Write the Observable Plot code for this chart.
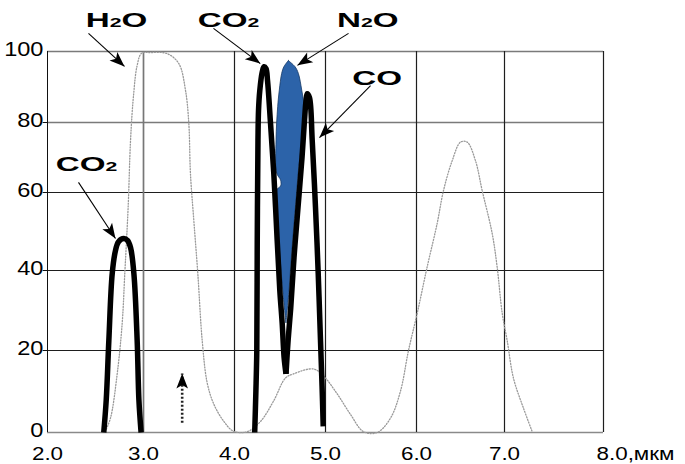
<!DOCTYPE html>
<html><head><meta charset="utf-8">
<script src="https://cdn.jsdelivr.net/npm/d3@7"></script>
<script src="https://cdn.jsdelivr.net/npm/@observablehq/plot@0.6"></script>
<style>body{margin:0;background:#fff}</style>
</head><body><div id="chart"></div>
<script>
// ---- axis / grid values ----
const xGridVals = [2, 3, 4, 5, 6, 7, 8];
const yGridVals = [0, 20, 40, 60, 80, 100];
const xTicks = [2, 3, 4, 5, 6, 7];
const xTickLabels = ["2.0", "3.0", "4.0", "5.0", "6.0", "7.0"];
const xLastTick = 8;
const xLastLabel = "8.0,мкм";
const yTicks = [0, 20, 40, 60, 80, 100];

// ---- H2O (dotted) transmission curve ----
const h2oX = [2.60,2.656,2.726,2.778,2.805,2.84,2.865,2.896,2.934,2.98,3.077,3.26,3.388,3.462,3.498,3.516,3.553,3.597,3.645,3.70,3.773,3.883,3.99,
  4.14,4.286,4.43,4.56,4.648,4.868,4.978,5.129,5.275,5.418,5.568,
  5.714,5.824,5.912,6.008,6.12,6.235,6.307,6.406,6.5,6.576,6.67,6.746,6.86,6.917,6.974,7.027,7.09,7.192,7.28];
const h2oY = [0.2,3.5,14.3,26.8,39.2,56.2,74.9,87.6,96.1,99.5,99.7,99.4,96.6,89.0,79.7,65.4,52.8,39.2,22.5,12.1,6.9,2.7,0.3,
  0.2,2.7,7.7,13.3,14.3,15.5,13.8,9.4,4.4,0.2,0,
  3.5,10.1,20,29.3,40.8,52.1,60.6,69.1,74.4,74.4,69.1,60.6,49.5,40.8,29.3,22.5,13.3,5.9,0.2];

// ---- CO2 2.7 µm band ----
const co2aX = [2.586,2.612,2.639,2.674,2.708,2.74,2.795,2.833,2.865,2.9,2.934,2.952,2.975];
const co2aY = [0,8,22.5,39.2,45.1,47.4,48.2,47.7,45.9,39.2,22.5,8,0];

// ---- CO2 4.3 µm band ----
const co2bX = [4.222,4.235,4.245,4.25,4.258,4.264,4.278,4.304,4.324,4.346,4.363,4.396,4.432,4.469,4.498,4.524,4.545,4.566];
const co2bY = [0,10,20,47.7,74.9,83.4,89.0,94.1,95.7,95.2,91.8,79.7,65.4,47.7,35.0,26.8,18.3,14.3];

// ---- CO band ----
const coX = [4.566,4.589,4.618,4.654,4.698,4.742,4.769,4.786,4.799,4.824,4.854,4.89,4.92,4.945,4.962,4.975];
const coY = [14.3,22.5,30.6,43.3,56.2,70,80.6,86.2,88.1,87.0,74.9,56.2,39.2,22.5,11.4,1.5];

// ---- N2O band (filled) ----
const n2oY =     [97.3,95.6,93.7,89.0,84.3,74.9,65.4,63.4,61.7,60.6,52.1,43.3,35.0,26.75];
const n2oLeft =  [4.597,4.549,4.524,4.498,4.480,4.462,4.469,4.512,4.512,4.469,4.480,4.505,4.535,4.571];
const n2oRight = [4.597,4.670,4.707,4.744,4.769,4.745,4.705,4.700,4.692,4.690,4.660,4.630,4.605,4.571];

// ---- annotations ----
const labelText = ["H2O", "CO2", "N2O", "CO", "CO2"];
const labelX = [2.719, 3.934, 5.465, 5.568, 2.406];
const labelY = [108.9, 108.9, 108.9, 92.5, 68];
const arrowX1 = [2.427, 3.769, 5.253, 5.495, 2.323];
const arrowY1 = [105.1, 106.5, 105.1, 90.4, 62.9];
const arrowX2 = [2.802, 4.283, 4.692, 4.934, 2.708];
const arrowY2 = [95.8, 96.6, 96.1, 75.7, 48.2];
const upArrowX = [3.425];
const upArrowY1 = [2.4];
const upArrowY2 = [14.4];

// ---- tables built from arrays ----
const h2o = h2oX.map((x, i) => ({x, y: h2oY[i]}));
const co2a = co2aX.map((x, i) => ({x, y: co2aY[i]}));
const co2b = co2bX.map((x, i) => ({x, y: co2bY[i]}));
const co = coX.map((x, i) => ({x, y: coY[i]}));
const n2o = n2oY.map((y, i) => ({y, l: n2oLeft[i], r: n2oRight[i]}));
const labels = labelText.map((t, i) => ({t, x: labelX[i], y: labelY[i]}));
const arrows = arrowX1.map((x1, i) => ({x1, y1: arrowY1[i], x2: arrowX2[i], y2: arrowY2[i]}));
const upArrow = upArrowX.map((x, i) => ({x, y1: upArrowY1[i], y2: upArrowY2[i]}));

// The original's grid is not evenly spaced: piecewise-linear scale transforms
const xPiece = d3.scaleLinear().domain(xGridVals).range([47, 143, 234, 325, 416, 504, 603]);
const yPiece = d3.scaleLinear().domain(yGridVals).range([432, 350, 270, 192, 122, 51]);

const thick = {x: "x", y: "y", stroke: "#000", strokeWidth: 5.5, curve: "catmull-rom", strokeLinecap: "butt", strokeLinejoin: "round"};

const chart = Plot.plot({
  width: 685,
  height: 464,
  style: {fontFamily: "'Liberation Sans', Arial, sans-serif", background: "white", overflow: "visible"},
  x: {type: "linear", domain: [47, 603], range: [47, 603], transform: xPiece, axis: null},
  y: {type: "linear", domain: [432, 51], range: [432, 51], transform: yPiece, axis: null},
  marks: [
    Plot.ruleY(yTicks.filter(d => d > 0 && d < 80), {x1: 2, x2: 8, stroke: "#1e1e1e", strokeWidth: 1.1}),
    Plot.ruleY(yTicks.filter(d => d >= 80), {x1: 2, x2: 8, stroke: "#7a7a7a", strokeWidth: 1.7}),
    Plot.ruleY([0], {x1: 2, x2: 8, stroke: "#8a8a8a", strokeWidth: 1.7}),
    Plot.ruleX(xGridVals.filter(d => d === 3), {y1: 0, y2: 100, stroke: "#777", strokeWidth: 1.7}),
    Plot.ruleX(xGridVals.filter(d => d > 3), {y1: 0, y2: 100, stroke: "#1e1e1e", strokeWidth: 1.2}),
    Plot.ruleX([2], {y1: 0, y2: 100, stroke: "#111", strokeWidth: 1}),
    Plot.ruleY(yTicks.filter(d => d > 0 && d < 100), {x1: 1.955, x2: 2, stroke: "#111", strokeWidth: 1}),
    Plot.line(h2o, {x: "x", y: "y", stroke: "#9a9a9a", strokeWidth: 1.3, strokeDasharray: "1.1,1.7", curve: "catmull-rom"}),
    Plot.areaX(n2o, {x1: "l", x2: "r", y: "y", fill: "#2c63a9", stroke: "#173a66", strokeWidth: 0.8, curve: "catmull-rom"}),
    Plot.line(co2a, thick),
    Plot.line(co2b, thick),
    Plot.line(co, thick),
    Plot.link(arrows, {x1: "x1", y1: "y1", x2: "x2", y2: "y2", stroke: "#000", strokeWidth: 1.1}),
    Plot.link(upArrow, {x1: "x", x2: "x", y1: "y1", y2: "y2", stroke: "#222", strokeWidth: 2.6, strokeDasharray: "2,2"}),
    Plot.text(xTicks, {x: xTicks, y: 0, text: xTickLabels, dy: 21, fontSize: 19, fill: "#000"}),
    Plot.text([xLastTick], {x: [xLastTick], y: 0, text: [xLastLabel], dy: 21, dx: -7, textAnchor: "start", fontSize: 19, fill: "#000"}),
    Plot.text(yTicks, {x: 2, y: yTicks, text: yTicks.map(String), textAnchor: "end", dx: -4, dy: -2, fontSize: 20, fill: "#000"}),
    Plot.text(labels, {x: "x", y: "y", text: "t", fontSize: 21, fontWeight: "bold", fill: "#000"})
  ]
});

document.getElementById("chart").appendChild(chart);

// ---- styling post-process: wide glyphs, subscripts, filled arrowheads ----
const svg = d3.select(chart.tagName.toLowerCase() === "svg" ? chart : chart.querySelector("svg"));
const labelSet = new Set(labelText);
svg.selectAll("text").each(function () {
  const t = d3.select(this);
  const txt = this.textContent;
  const isLabel = labelSet.has(txt);
  const s = isLabel ? 1.58 : 1.18;
  if (isLabel) {
    t.text(null);
    for (const ch of txt) {
      const sp = t.append("tspan").text(ch);
      if (/\d/.test(ch)) sp.attr("font-size", "0.64em");
    }
  }
  let tr = t.attr("transform") || "";
  const xa = t.attr("x");
  if (xa != null && !isNaN(+xa) && +xa !== 0) {
    tr += ` translate(${+xa},0)`;
    t.attr("x", 0);
  }
  t.attr("transform", `${tr} scale(${s},1)`);
});
const defs = svg.append("defs");
defs.append("marker")
  .attr("id", "ahead").attr("viewBox", "-17 -7 18 14")
  .attr("markerWidth", 18).attr("markerHeight", 14)
  .attr("refX", 0).attr("refY", 0).attr("orient", "auto").attr("markerUnits", "userSpaceOnUse")
  .append("path").attr("d", "M0,0L-15,-5.8L-11.5,0L-15,5.8Z").attr("fill", "#000");
svg.selectAll('g[aria-label="link"] path').attr("marker-end", "url(#ahead)");
</script>
</body></html>
